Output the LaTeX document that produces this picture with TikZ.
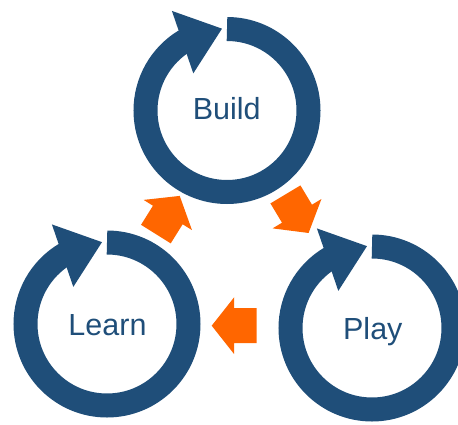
\documentclass[tikz,border=0pt]{standalone}
\usepackage{fontspec}
\setmainfont{Liberation Sans}
\usetikzlibrary{calc}
\definecolor{ringblue}{HTML}{1F4E79}
\definecolor{arroworange}{HTML}{FF6600}
\tikzset{
  ring/.style={line width=24pt, draw=ringblue},
  headtri/.style={fill=ringblue},
  cyclelabel/.style={text=ringblue, anchor=base, inner sep=0pt, font=\fontsize{30.5}{34}\selectfont},
  blockarrow/.style={fill=arroworange},
}
\newcommand\cyclering[1]{%
  \draw[ring] ($(#1)+(90:81.5pt)$) arc[start angle=90, end angle=-239, radius=81.5pt];
  \coordinate (#1-b) at ($(#1)+(123:81.5pt)$);
  \coordinate (#1-t) at ($(#1)+(93.5:82pt)$);
  \fill[headtri] ($(#1-b)!33pt!90:(#1-t)$) -- (#1-t) -- ($(#1-b)!33pt!-90:(#1-t)$) -- cycle;
}
\newcommand\orangearrow[2]{%
  \fill[blockarrow, shift={(#1)}, rotate=#2] (-22.5,-17.5) -- (0,-17.5) -- (0,-28.5) -- (22.5,0) -- (0,28.5) -- (0,17.5) -- (-22.5,17.5) -- cycle;
}
\begin{document}
\begin{tikzpicture}[x=1pt,y=1pt]
  \useasboundingbox (0,0) rectangle (458,424);
  \coordinate (build) at (227,313.5);
  \coordinate (learn) at (107,100);
  \coordinate (play) at (372,96);
  \cyclering{build}
  \cyclering{learn}
  \cyclering{play}
  \node[cyclelabel] (buildtxt) at (226.8,304.6) {Build};
  \node[cyclelabel] (learntxt) at (107.5,89) {Learn};
  \node[cyclelabel] (playtxt) at (372.8,84.7) {Play};
  \coordinate (a1) at (167.8,209);
  \coordinate (a2) at (297,210.3);
  \coordinate (a3) at (234.2,98.3);
  \orangearrow{a1}{58}
  \orangearrow{a2}{-59}
  \orangearrow{a3}{180}
\end{tikzpicture}
\end{document}
